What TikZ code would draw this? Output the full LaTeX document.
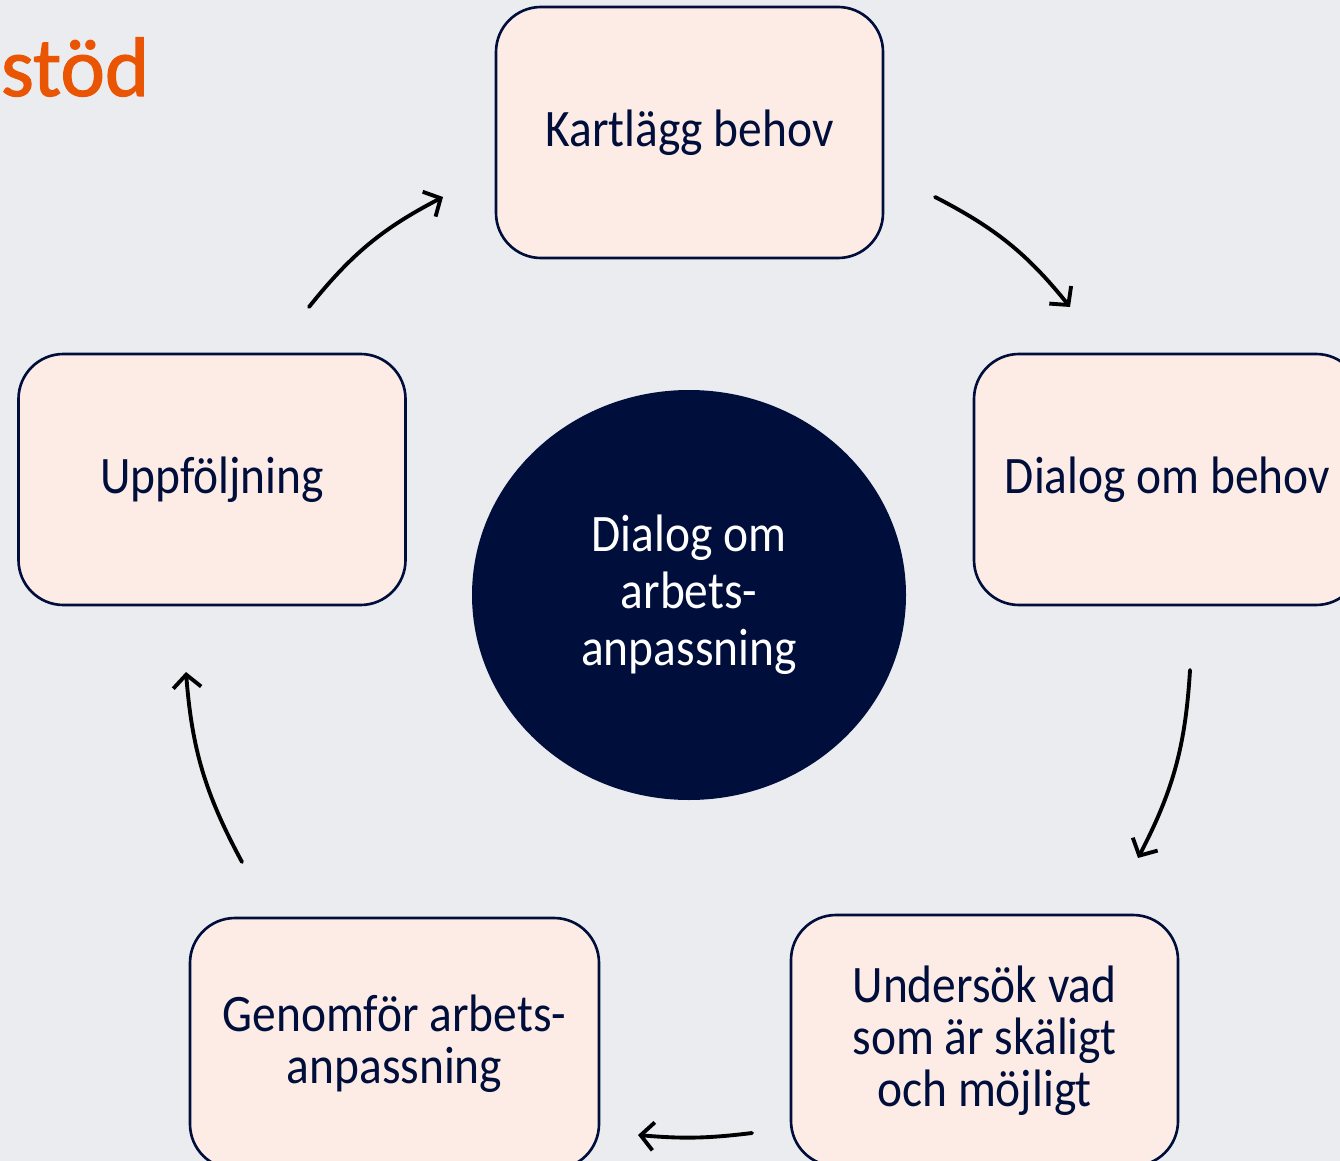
\documentclass[tikz,border=0pt]{standalone}
\usepackage{fontspec}
\setmainfont[FakeStretch=0.9]{Carlito}
\newfontfamily\titlefont[FakeBold=1.4]{Carlito}
\usetikzlibrary{
  calc,
  positioning,
  arrows.meta,
  shapes.geometric}
\definecolor{bgGrey}{RGB}{235,236,240}
\definecolor{boxPeach}{RGB}{253,236,229}
\definecolor{navy}{RGB}{0,14,60}
\definecolor{stodOrange}{RGB}{234,85,4}

\begin{document}
\begin{tikzpicture}[
  >={Straight Barb[length=2.6mm,width=5.6mm]},
  line width=2.2pt,
  every node/.style={align=center,text=navy,font=\fontsize{30}{29.6}\selectfont},
  stepbox/.style={draw=navy,line width=1.5pt,fill=boxPeach,rounded corners=0.9cm,minimum width=7.74cm,minimum height=5.02cm},
  hub/.style={ellipse,fill=navy,text=white,minimum width=8.68cm,minimum height=8.2cm,font=\fontsize{30}{32.4}\selectfont},
  cycle/.style={->,black,line width=2.2pt,line cap=round}
]%
  \fill[bgGrey] (0,0) rectangle (26.8,-23.22);
  \useasboundingbox (0,0) rectangle (26.8,-23.22);

  \node[anchor=base west,inner sep=0pt,text=stodOrange,font=\titlefont\fontsize{48}{50}\selectfont] (title) at (-0.02,-1.92) {stöd};

  \node[hub] (hub) at (13.78,-11.9) {Dialog om\\arbets-\\anpassning};

  \node[stepbox] (kart) at (13.79,-2.65) {Kartlägg behov};
  \node[stepbox] (dialog) at (23.35,-9.59) {Dialog om behov};
  \node[stepbox] (undersok) at (19.69,-20.81) {Undersök vad\\som är skäligt\\och möjligt};
  \node[stepbox,minimum width=8.18cm] (genomfor) at (7.89,-20.87) {Genomför arbets-\\anpassning};
  \node[stepbox] (uppf) at (4.24,-9.59) {Uppföljning};

  % arrow ends
  \coordinate (a1s) at (6.18,-6.14);   \coordinate (a1e) at (8.86,-3.94);
  \coordinate (a2s) at (18.7,-3.94);   \coordinate (a2e) at (21.4,-6.14);
  \coordinate (a3s) at (23.8,-13.4);   \coordinate (a3e) at (22.76,-17.16);
  \coordinate (a4s) at (15.04,-22.66); \coordinate (a4e) at (12.76,-22.7);
  \coordinate (a5s) at (4.84,-17.24);  \coordinate (a5e) at (3.72,-13.44);

  \draw[cycle] (a1s) to[bend left=12] (a1e);
  \draw[cycle] (a2s) to[bend left=12] (a2e);
  \draw[cycle] (a3s) to[bend left=12] (a3e);
  \draw[cycle] (a4s) to[bend left=6]  (a4e);
  \draw[cycle] (a5s) to[bend left=12] (a5e);

\end{tikzpicture}
\end{document}
